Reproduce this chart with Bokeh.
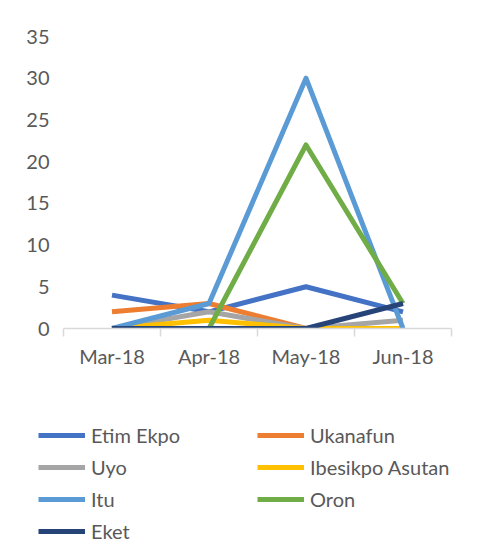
from bokeh.plotting import figure
from bokeh.models import Range1d, FixedTicker, Legend, LegendItem
from bokeh.layouts import column
from bokeh.embed import file_html
from bokeh.resources import INLINE

months = ["Mar-18", "Apr-18", "May-18", "Jun-18"]
x_pos = [1, 2, 3, 4]
y_ticks = [0, 5, 10, 15, 20, 25, 30, 35]

series_names = ["Etim Ekpo", "Ukanafun", "Uyo", "Ibesikpo Asutan", "Itu", "Oron", "Eket"]
etim_ekpo = [4, 2, 5, 2]
ukanafun = [2, 3, 0, 0]
uyo = [0, 2, 0, 1]
ibesikpo_asutan = [0, 1, 0, 0]
itu = [0, 3, 30, 0]
oron = [0, 0, 22, 3]
eket = [0, 0, 0, 3]
series_values = [etim_ekpo, ukanafun, uyo, ibesikpo_asutan, itu, oron, eket]
colors = ["#4472C4", "#ED7D31", "#A5A5A5", "#FFC000", "#5B9BD5", "#70AD47", "#264478"]

FONT = "Lato"
TXT = "#595959"
LW = 5

p = figure(width=470, height=390, output_backend="svg", toolbar_location=None,
           x_range=Range1d(0.5, 4.5), y_range=Range1d(0, 35),
           min_border_left=63, min_border_right=19, min_border_top=36, min_border_bottom=62)
p.frame_align = False
p.outline_line_color = None
p.background_fill_color = "white"
p.border_fill_color = "white"
p.xgrid.grid_line_color = None
p.ygrid.grid_line_color = None

for name, vals, c in zip(series_names, series_values, colors):
    p.line(x_pos, vals, line_color=c, line_width=LW, line_join="round", line_cap="butt")

xa = p.xaxis[0]
xa.ticker = FixedTicker(ticks=x_pos, minor_ticks=[0.5, 1.5, 2.5, 3.5, 4.5])
xa.major_label_overrides = {i: m for i, m in zip(x_pos, months)}
xa.major_tick_line_color = None
xa.major_tick_out = 0
xa.major_tick_in = 0
xa.minor_tick_line_color = "#D9D9D9"
xa.minor_tick_line_width = 1.5
xa.minor_tick_out = 8
xa.minor_tick_in = 0
xa.axis_line_color = "#D9D9D9"
xa.axis_line_width = 1.5
xa.major_label_text_font = FONT
xa.major_label_text_font_size = "20px"
xa.major_label_text_color = TXT
xa.major_label_standoff = 7

ya = p.yaxis[0]
ya.ticker = FixedTicker(ticks=y_ticks)
ya.axis_line_color = None
ya.major_tick_line_color = None
ya.major_tick_out = 0
ya.major_tick_in = 0
ya.minor_tick_line_color = None
ya.minor_tick_out = 0
ya.major_label_text_font = FONT
ya.major_label_text_font_size = "20px"
ya.major_label_text_color = TXT
ya.major_label_standoff = 14

# legend panel (its sample lines sit outside the visible range)
lg = figure(width=470, height=159, output_backend="svg", toolbar_location=None,
            x_range=Range1d(100, 101), y_range=Range1d(100, 101),
            min_border_left=0, min_border_right=0, min_border_top=0, min_border_bottom=0,
            x_axis_location=None, y_axis_location=None)
lg.frame_align = False
lg.outline_line_color = None
lg.xgrid.grid_line_color = None
lg.ygrid.grid_line_color = None
lg.border_fill_color = "white"

items = []
for name, vals, c in zip(series_names, series_values, colors):
    r = lg.line(x_pos, vals, line_color=c, line_width=LW, line_cap="butt")
    items.append(LegendItem(label=name, renderers=[r]))

legend = Legend(items=items, location=(38, 6), orientation="horizontal", ncols=2,
                glyph_width=47, glyph_height=20, label_height=20, label_width=158,
                label_standoff=6, spacing=8, padding=0, margin=0,
                label_text_font=FONT, label_text_font_size="20px", label_text_color=TXT,
                border_line_color=None, background_fill_alpha=0)
lg.add_layout(legend)

layout = column(p, lg, spacing=0)
open("out.html", "w").write(file_html(layout, INLINE))
